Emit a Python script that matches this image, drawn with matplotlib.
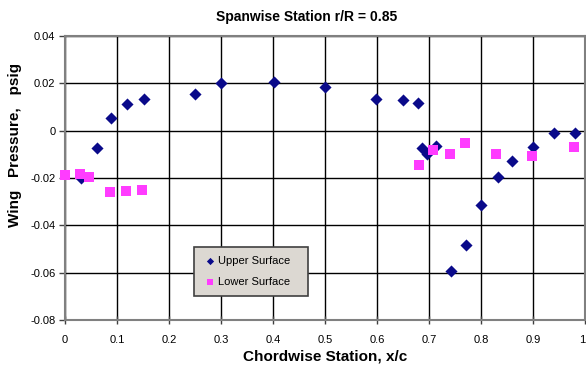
import matplotlib
matplotlib.use("Agg")
import matplotlib.pyplot as plt
from matplotlib.ticker import FixedLocator, FuncFormatter

plt.rcParams['font.family'] = ['Liberation Sans', 'DejaVu Sans']

# Upper surface taps
upper_x = [0.030, 0.061, 0.088, 0.119, 0.151, 0.250, 0.300, 0.401, 0.500,
           0.598, 0.650, 0.679, 0.687, 0.696, 0.713, 0.742, 0.771, 0.800,
           0.832, 0.860, 0.900, 0.940, 0.981]
upper_p = [-0.0199, -0.0073, 0.0052, 0.0113, 0.0134, 0.0155, 0.0203, 0.0207, 0.0183,
           0.0133, 0.0129, 0.0119, -0.0073, -0.0097, -0.0066, -0.0593, -0.0482, -0.0316,
           -0.0194, -0.0130, -0.0069, -0.0010, -0.0010]

# Lower surface taps
lower_x = [0.000, 0.028, 0.047, 0.087, 0.118, 0.148,
           0.680, 0.708, 0.740, 0.770, 0.829, 0.899, 0.979]
lower_p = [-0.0189, -0.0183, -0.0196, -0.0258, -0.0257, -0.0252,
           -0.0143, -0.0080, -0.0099, -0.0052, -0.0099, -0.0108, -0.0069]

x_ticks = [0, 0.1, 0.2, 0.3, 0.4, 0.5, 0.6, 0.7, 0.8, 0.9, 1.0]
y_ticks = [-0.08, -0.06, -0.04, -0.02, 0, 0.02, 0.04]

fig = plt.figure(figsize=(5.86, 3.68), dpi=100)
ax = fig.add_axes([65 / 586, 48 / 368, 520 / 586, 284 / 368])

ax.scatter(upper_x, upper_p, marker='D', s=38, color='#0a0a8a', linewidths=0,
           label='Upper Surface', zorder=3, clip_on=False)
ax.scatter(lower_x, lower_p, marker='s', s=52, color='#ff3cff', linewidths=0,
           label='Lower Surface', zorder=3, clip_on=False)

ax.set_xlim(0, 1)
ax.set_ylim(-0.08, 0.04)
ax.xaxis.set_major_locator(FixedLocator(x_ticks))
ax.yaxis.set_major_locator(FixedLocator(y_ticks))
ax.xaxis.set_major_formatter(FuncFormatter(lambda v, p: '0' if v == 0 else ('1' if v == 1 else f'{v:.1f}')))
ax.yaxis.set_major_formatter(FuncFormatter(lambda v, p: '0' if abs(v) < 1e-9 else f'{v:.2f}'))

ax.grid(True, color='black', linewidth=1.0)
ax.set_axisbelow(True)
for side in ax.spines.values():
    side.set_color('#808080')
    side.set_linewidth(1.5)

ax.tick_params(axis='x', direction='inout', length=6, width=1, color='#404040',
               labelsize=8, pad=8)
ax.tick_params(axis='y', direction='out', length=4, width=1, color='#404040',
               labelsize=8, pad=3)

# keep the last x tick label inside the figure edge
fig.canvas.draw()
ax.get_xticklabels()[-1].set_horizontalalignment('right')

fig.text(307 / 586, 1 - 17 / 368, 'Spanwise Station r/R = 0.85', fontsize=10,
         fontweight='bold', ha='center', va='center')
ax.set_xlabel('Chordwise Station, x/c', fontsize=11, fontweight='bold', labelpad=3)
ax.set_ylabel('Wing   Pressure,   psig', fontsize=11, fontweight='bold')
ax.yaxis.set_label_coords(-0.083, 0.616)

leg = ax.legend(loc='lower left', bbox_to_anchor=(129 / 520, 24 / 284, 114 / 520, 53 / 284),
                mode='expand', fontsize=8, frameon=True, fancybox=False,
                markerscale=0.6, handletextpad=0.2, handlelength=1.2,
                labelspacing=1.0, borderpad=0.8, borderaxespad=0)
frame = leg.get_frame()
frame.set_facecolor('#dcd8d2')
frame.set_edgecolor('#404040')
frame.set_linewidth(1.2)
frame.set_alpha(1)

fig.savefig('out.png', dpi=100)
